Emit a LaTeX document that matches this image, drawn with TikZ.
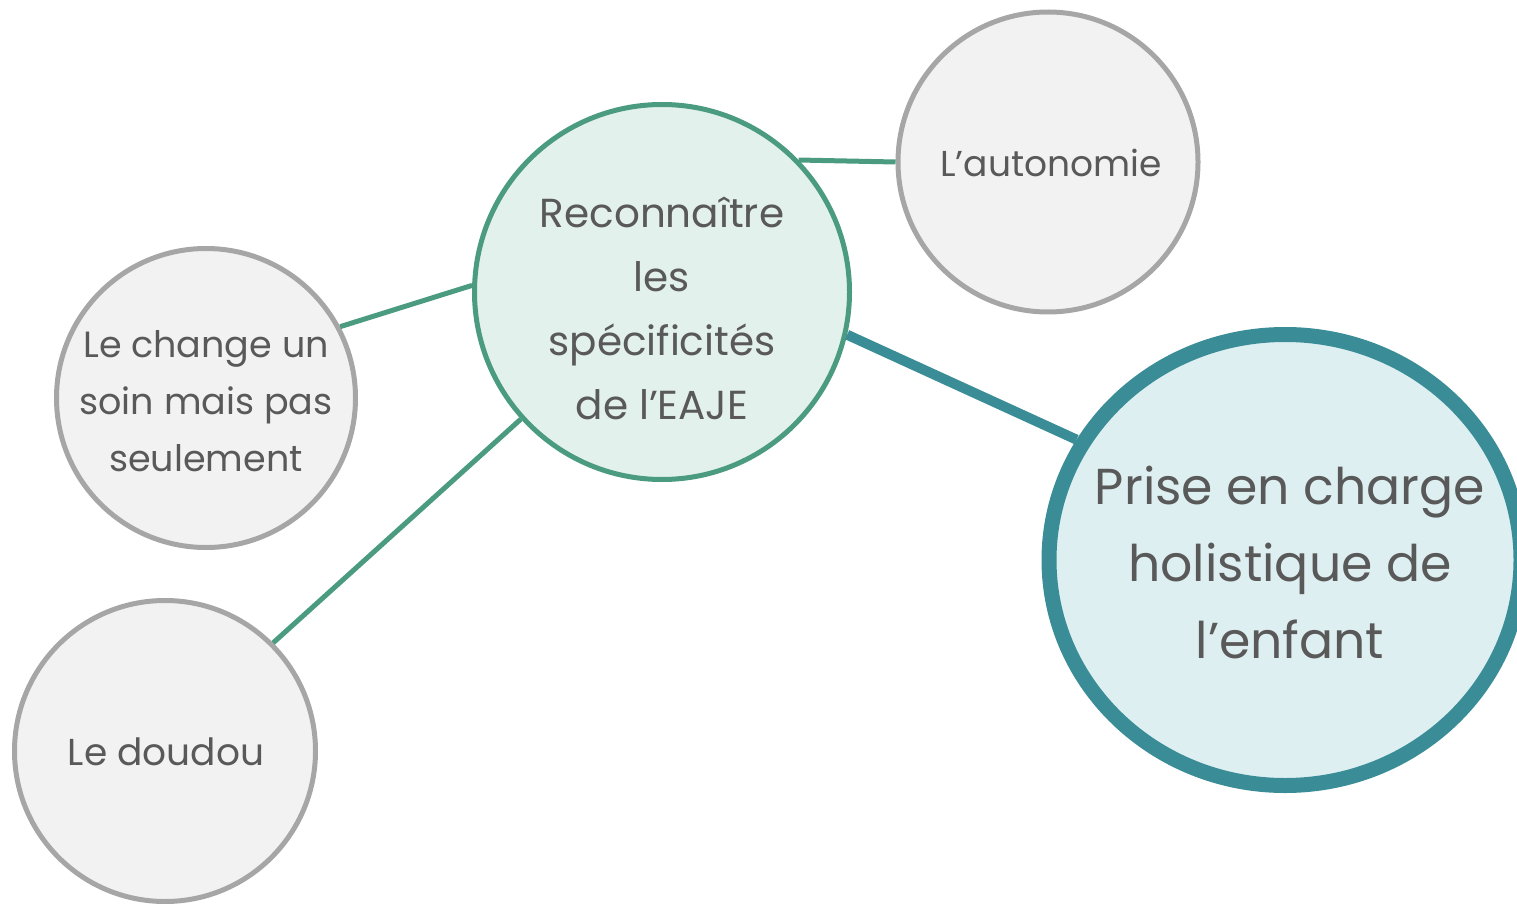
\documentclass[tikz,border=0pt]{standalone}
\usepackage{fontspec}
\usetikzlibrary{shapes.geometric}
\setmainfont{Poppins}
\definecolor{txt}{HTML}{595959}
\definecolor{grn}{HTML}{4A9B7F}
\definecolor{grnfill}{HTML}{E3F1EC}
\definecolor{gry}{HTML}{A6A6A6}
\definecolor{gryfill}{HTML}{F2F2F2}
\definecolor{teal}{HTML}{3A8D96}
\definecolor{tealfill}{HTML}{DEEFF2}
\tikzset{
  bubble/.style={circle, draw=gry, fill=gryfill, line width=5pt, inner sep=0pt},
  mainbubble/.style={circle, draw=grn, fill=grnfill, line width=5pt, inner sep=0pt},
  bigbubble/.style={ellipse, draw=teal, fill=tealfill, line width=15pt, inner sep=0pt},
  lbl/.style={text=txt, align=center, inner sep=0pt},
  thinlink/.style={draw=grn, line width=5pt},
  thicklink/.style={draw=teal, line width=10pt}
}
\begin{document}
\begin{tikzpicture}[x=1pt,y=-1pt]
\useasboundingbox (0,0) rectangle (1517,904);
\node[mainbubble, minimum size=375pt] (c) at (662,292) {};
\node[bubble, minimum size=300pt] (aut) at (1048,162) {};
\node[bubble, minimum size=299pt] (chg) at (206,398) {};
\node[bubble, minimum size=301pt] (dou) at (165,751) {};
\node[bigbubble, minimum width=472pt, minimum height=451pt] (pec) at (1285,560) {};
\draw[thinlink] (c.44) -- (aut.180);
\draw[thinlink] (c.178) -- (chg.28);
\draw[thinlink] (c.222) -- (dou.45);
\draw[thicklink] (c.-13) -- (pec.150);
\node[lbl, font=\fontsize{40.5}{64}\selectfont] (tc) at (662,308) {Reconnaître\\les\\spécificités\\de l’EAJE};
\node[lbl, font=\fontsize{36.5}{57}\selectfont] (tchg) at (206,401) {Le change un\\soin mais pas\\seulement};
\node[lbl, font=\fontsize{36}{57}\selectfont] (taut) at (1051,163) {L’autonomie};
\node[lbl, font=\fontsize{37.5}{57}\selectfont] (tdou) at (166,752) {Le doudou};
\node[lbl, font=\fontsize{50.5}{77}\selectfont] (tpec) at (1290,563) {Prise en charge\\holistique de\\l’enfant};
\end{tikzpicture}
\end{document}
